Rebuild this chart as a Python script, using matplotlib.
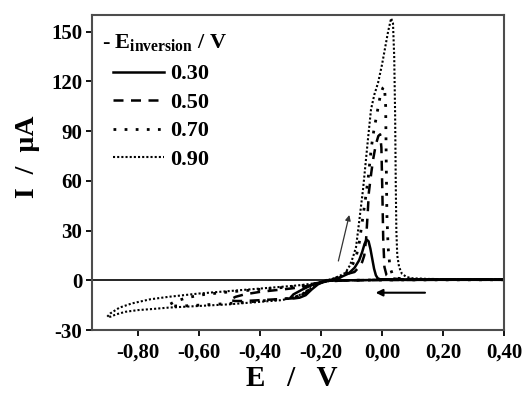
import matplotlib
matplotlib.use('Agg')
import matplotlib.pyplot as plt

# potential (V) and current (uA)
e_030 = [0.40, 0.20, 0.00, -0.10, -0.18, -0.22, -0.26, -0.29, -0.30, -0.29, -0.27, -0.25,
         -0.23, -0.21, -0.19, -0.17, -0.14, -0.11, -0.09, -0.075, -0.065, -0.057, -0.050,
         -0.044, -0.038, -0.032, -0.026, -0.020, -0.014, -0.005, 0.05, 0.40]
i_030 = [0.3, 0.3, 0.2, 0.0, -0.3, -2.0, -5.5, -8.5, -10.5, -11.0, -10.5, -9.0,
         -5.5, -2.5, -0.8, 0.2, 1.5, 4.0, 7.5, 12.0, 17.0, 22.0, 24.5,
         23.5, 19.0, 13.0, 7.0, 3.0, 1.2, 0.5, 0.3, 0.3]

e_050 = [0.40, 0.20, 0.00, -0.10, -0.18, -0.22, -0.26, -0.30, -0.35, -0.40, -0.45, -0.48, -0.50,
         -0.48, -0.45, -0.40, -0.35, -0.30, -0.27, -0.25, -0.23, -0.21, -0.19, -0.17, -0.14,
         -0.11, -0.09, -0.075, -0.065, -0.058, -0.052, -0.047, -0.043, -0.035, -0.028, -0.020,
         -0.012, -0.006, -0.002, 0.001, 0.004, 0.008, 0.015, 0.03, 0.06, 0.15, 0.40]
i_050 = [0.3, 0.3, 0.2, 0.0, -0.5, -2.5, -4.0, -5.0, -6.0, -7.0, -8.5, -10.0, -12.0,
         -12.5, -12.5, -12.0, -11.5, -11.0, -9.5, -7.5, -4.5, -2.0, -0.5, 0.3, 1.5,
         4.0, 5.0, 8.0, 11.0, 15.0, 25.0, 40.0, 53.0, 65.0, 74.0, 82.0,
         87.0, 88.0, 80.0, 55.0, 25.0, 8.0, 3.0, 1.2, 0.6, 0.4, 0.3]

e_070 = [0.40, 0.00, -0.10, -0.18, -0.22, -0.26, -0.30, -0.40, -0.50, -0.58, -0.64, -0.68, -0.70,
         -0.68, -0.65, -0.60, -0.50, -0.40, -0.33, -0.29, -0.26, -0.24, -0.22, -0.20, -0.18,
         -0.15, -0.12, -0.10, -0.085, -0.075, -0.065, -0.055, -0.045, -0.035, -0.027, -0.015,
         -0.005, 0.003, 0.008, 0.012, 0.014, 0.016, 0.020, 0.026, 0.035, 0.05, 0.10, 0.40]
i_070 = [0.3, 0.2, 0.0, -0.5, -2.0, -3.2, -4.0, -5.5, -7.0, -8.5, -10.5, -13.0, -15.0,
         -15.5, -15.5, -15.0, -14.0, -12.5, -11.5, -10.5, -8.5, -6.0, -3.0, -1.2, 0.0,
         1.5, 4.0, 8.0, 14.0, 22.0, 35.0, 48.0, 62.0, 80.0, 90.0, 102.0,
         112.0, 116.0, 117.0, 105.0, 70.0, 40.0, 20.0, 8.0, 3.0, 1.2, 0.6, 0.4]

e_090 = [0.40, 0.20, 0.00, -0.10, -0.18, -0.22, -0.26, -0.30, -0.40, -0.50, -0.60, -0.70, -0.76,
         -0.82, -0.86, -0.89, -0.90, -0.89, -0.87, -0.84, -0.80, -0.75, -0.70, -0.60, -0.50,
         -0.40, -0.33, -0.29, -0.26, -0.24, -0.22, -0.20, -0.18, -0.15, -0.12, -0.105, -0.095,
         -0.085, -0.075, -0.062, -0.046, -0.036, -0.025, -0.013, 0.000, 0.010, 0.020, 0.030,
         0.036, 0.040, 0.043, 0.045, 0.047, 0.050, 0.056, 0.065, 0.080, 0.100, 0.150, 0.250, 0.40]
i_090 = [0.5, 0.5, 0.3, 0.0, -0.5, -1.8, -2.8, -3.5, -5.0, -6.5, -8.0, -10.0, -11.5,
         -14.0, -16.5, -20.0, -22.0, -22.0, -20.5, -19.0, -18.0, -17.3, -16.5, -15.5, -14.5,
         -13.0, -12.0, -10.5, -8.0, -5.5, -3.0, -1.2, 0.0, 1.5, 4.5, 9.0, 14.0,
         20.0, 35.0, 55.0, 85.0, 103.0, 112.0, 119.0, 130.0, 140.0, 150.0, 158.0,
         155.0, 135.0, 100.0, 60.0, 30.0, 15.0, 8.0, 4.0, 2.0, 1.2, 0.8, 0.6, 0.5]

labels = ['0.30', '0.50', '0.70', '0.90']
xticks = [-0.80, -0.60, -0.40, -0.20, 0.00, 0.20, 0.40]
xtick_labels = ['-0,80', '-0,60', '-0,40', '-0,20', '0,00', '0,20', '0,40']
yticks = [-30, 0, 30, 60, 90, 120, 150]
ytick_labels = ['-30', '0', '30', '60', '90', '120', '150']

plt.rcParams['font.family'] = 'Liberation Serif'
plt.rcParams['font.weight'] = 'bold'
plt.rcParams['mathtext.fontset'] = 'custom'
plt.rcParams['mathtext.rm'] = 'Liberation Serif:bold'
plt.rcParams['mathtext.bf'] = 'Liberation Serif:bold'
plt.rcParams['mathtext.it'] = 'Liberation Serif:bold'

fig = plt.figure(figsize=(5.25, 3.94), dpi=100)
ax = fig.add_axes([0.1752, 0.1624, 0.785, 0.7996])

ax.axhline(0, color='black', lw=1.2, zorder=1)
ax.plot(e_030, i_030, color='black', lw=1.8, ls='-', label=labels[0])
ax.plot(e_050, i_050, color='black', lw=1.8, ls=(0, (4, 3)), label=labels[1])
ax.plot(e_070, i_070, color='black', lw=2.0, ls=(0, (1, 3)), label=labels[2])
ax.plot(e_090, i_090, color='black', lw=1.5, ls=(0, (1, 1)), label=labels[3])

# scan direction arrows
ax.annotate('', xy=(-0.03, -7.5), xytext=(0.15, -7.5),
            arrowprops=dict(arrowstyle='-|>', lw=1.5, color='black', mutation_scale=10))
ax.annotate('', xy=(-0.105, 41), xytext=(-0.145, 10),
            arrowprops=dict(arrowstyle='-|>', lw=0.9, color='#333333', mutation_scale=8))

ax.set_xlim(-0.95, 0.40)
ax.set_ylim(-30, 160)
ax.set_xticks(xticks)
ax.set_xticklabels(xtick_labels)
ax.set_yticks(yticks)
ax.set_yticklabels(ytick_labels)
ax.tick_params(direction='out', length=4, width=1.3, labelsize=15, colors='black')
ax.tick_params(axis='x', pad=5)
ax.tick_params(axis='y', pad=3)
for s in ax.spines.values():
    s.set_color('#4d4d4d')
    s.set_linewidth(1.5)

ax.set_xlabel('E   /   V', fontsize=21, fontweight='bold')
ax.xaxis.set_label_coords(0.485, -0.11)
ax.xaxis.label.set_va('top')
ax.set_ylabel('I  /  µA', fontsize=20, fontweight='bold')
ax.yaxis.set_label_coords(-0.125, 0.55)

ax.text(0.024, 0.945, r'- E$_{\rm inversion}$ / V', transform=ax.transAxes,
        fontsize=16, fontweight='bold', va='top', ha='left')
ax.legend(loc='upper left', bbox_to_anchor=(0.05, 0.845), frameon=False,
          borderaxespad=0, borderpad=0, handlelength=2.3, handletextpad=0.3,
          labelspacing=0.36, prop={'size': 16, 'weight': 'bold'})

fig.savefig('out.png', dpi=100)
